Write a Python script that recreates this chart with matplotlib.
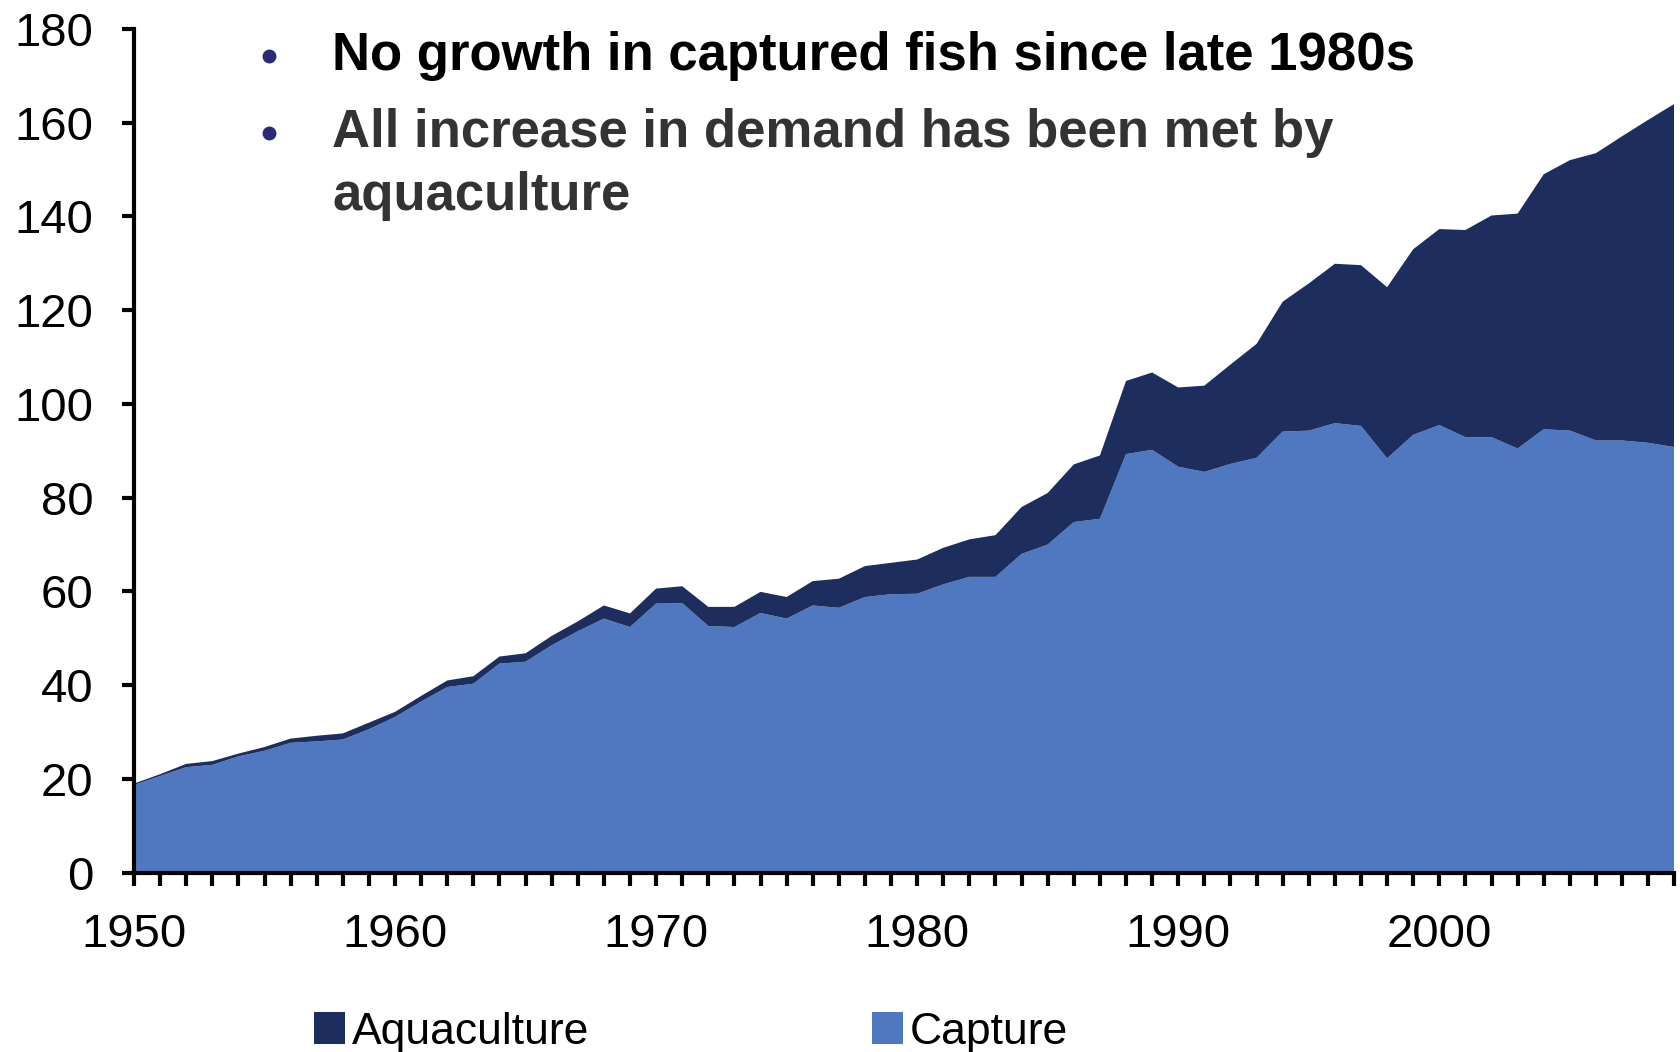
import matplotlib
matplotlib.use("Agg")
import matplotlib.pyplot as plt
from matplotlib.patches import Patch
from matplotlib.lines import Line2D
import numpy as np

plt.rcParams['font.family'] = ['Liberation Sans', 'DejaVu Sans']

# world fish production, million tonnes
years = list(range(1950, 2010))
total = [19.0, 21.0, 23.2, 23.8, 25.4, 26.8, 28.6, 29.2, 29.7, 32.0,
         34.3, 37.7, 41.0, 41.9, 46.1, 46.8, 50.5, 53.6, 57.0, 55.3,
         60.6, 61.1, 56.7, 56.7, 59.9, 58.8, 62.2, 62.7, 65.4, 66.1,
         66.8, 69.3, 71.1, 72.0, 78.0, 81.0, 87.1, 89.0, 104.9, 106.7,
         103.5, 103.9, 108.4, 112.8, 121.8, 125.7, 129.9, 129.6, 124.9, 133.0,
         137.3, 137.1, 140.2, 140.6, 149.0, 152.0, 153.5, 157.1, 160.6, 164.0]
capture = [18.7, 20.6, 22.5, 23.0, 24.8, 26.0, 27.7, 28.0, 28.4, 30.6,
           33.2, 36.5, 39.6, 40.3, 44.6, 45.0, 48.5, 51.5, 54.2, 52.4,
           57.4, 57.5, 52.6, 52.4, 55.4, 54.2, 57.0, 56.5, 58.8, 59.4,
           59.5, 61.5, 63.1, 63.1, 68.0, 70.0, 74.8, 75.5, 89.3, 90.2,
           86.6, 85.5, 87.2, 88.5, 94.1, 94.3, 95.9, 95.3, 88.4, 93.4,
           95.5, 92.9, 92.9, 90.5, 94.6, 94.3, 92.2, 92.2, 91.7, 90.8]
aquaculture = [t - c for t, c in zip(total, capture)]

series_names = ["Aquaculture", "Capture"]
# (text, has bullet, colour)
note_lines = [("No growth in captured fish since late 1980s", True, "black"),
              ("All increase in demand has been met by", True, "#333333"),
              ("aquaculture", False, "#333333")]
note_y = [0.947, 0.8736, 0.8134]

c_aqua = "#1c2d5e"
c_capt = "#4f78c0"

fig = plt.figure(figsize=(16.81, 10.52), dpi=100)
ax = fig.add_axes([0.0797, 0.1705, 0.9163, 0.802])

ax.stackplot(years, capture, aquaculture, colors=[c_capt, c_aqua], linewidth=0)

ax.set_xlim(1950, 2009)
ax.set_ylim(0, 180)
ax.set_yticks(np.arange(0, 181, 20))
ax.set_xticks(range(1950, 2001, 10))
ax.set_xticks(years, minor=True)

for s in ["top", "right"]:
    ax.spines[s].set_visible(False)
for s in ["left", "bottom"]:
    ax.spines[s].set_linewidth(3)

ax.tick_params(axis="y", direction="out", length=9, width=3, labelsize=34, pad=20)
ax.tick_params(axis="x", which="both", direction="out", length=9, width=3, labelsize=34, pad=20)

# bullet notes
for (txt, bullet, col), y in zip(note_lines, note_y):
    if bullet:
        fig.add_artist(Line2D([0.16], [y], marker="o", markersize=9, color="#2a2a78",
                              linestyle="none", transform=fig.transFigure))
    fig.text(0.1976, y, txt, fontsize=38, fontweight="bold", color=col, va="center")

handles = [Patch(facecolor=c_aqua), Patch(facecolor=c_capt)]
fig.legend(handles, series_names, loc="center left", bbox_to_anchor=(0.187, 0.019),
           ncol=2, frameon=False, fontsize=32, handlelength=0.7, handleheight=0.75,
           handletextpad=0.15, columnspacing=6.35, borderpad=0, borderaxespad=0)

fig.savefig("out.png", dpi=100)
